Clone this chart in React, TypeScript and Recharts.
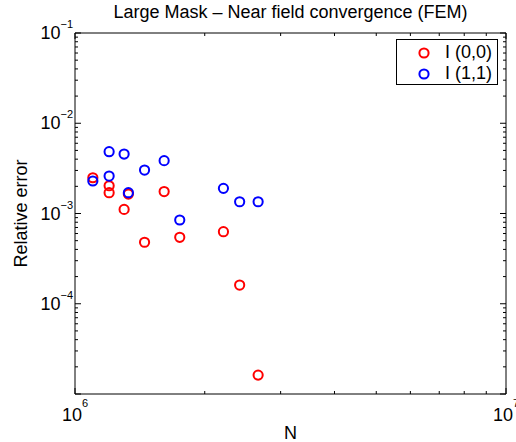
import { ScatterChart, Scatter, XAxis, YAxis, Legend } from 'recharts';

// problem size N (shared by both series)
const nValues = [1.10e6, 1.20e6, 1.20e6, 1.30e6, 1.33e6, 1.45e6, 1.61e6, 1.75e6, 2.21e6, 2.41e6, 2.66e6];
// relative error, I (0,0)
const err00 = [2.49e-3, 2.03e-3, 1.70e-3, 1.11e-3, 1.64e-3, 4.80e-4, 1.75e-3, 5.45e-4, 6.29e-4, 1.61e-4, 1.62e-5];
// relative error, I (1,1)
const err11 = [2.29e-3, 4.84e-3, 2.60e-3, 4.56e-3, 1.70e-3, 3.03e-3, 3.85e-3, 8.47e-4, 1.90e-3, 1.35e-3, 1.35e-3];

const xDecades = [6, 7];
const yDecades = [-5, -4, -3, -2, -1];
// decades whose label is printed on the y axis (10^-5 is not labelled)
const yLabelled = [-4, -3, -2, -1];
const minorSteps = [2, 3, 4, 5, 6, 7, 8, 9];

const withMinors = (decades: number[]) => {
  const out: number[] = [];
  decades.forEach((d, i) => {
    out.push(Math.pow(10, d));
    if (i < decades.length - 1) minorSteps.forEach(m => out.push(m * Math.pow(10, d)));
  });
  return out;
};
const xTicks = withMinors(xDecades);
const yTicks = withMinors(yDecades);

const data00 = nValues.map((n, i) => ({ n, err: err00[i] }));
const data11 = nValues.map((n, i) => ({ n, err: err11[i] }));

const FONT = '"Liberation Sans", Arial, Helvetica, sans-serif';
const MAJOR = 6;
const MINOR = 3;

const expOf = (v: number) => Math.round(Math.log10(v));
const isMajor = (v: number) => Math.abs(Math.log10(v) - expOf(v)) < 1e-9;
const supText = (e: number) => (e < 0 ? '\u2212' + Math.abs(e) : String(e));

const BottomTick = ({ x, y, payload }: any) => {
  const v = payload.value;
  const major = isMajor(v);
  return (
    <g>
      <line x1={x} x2={x} y1={y} y2={y - (major ? MAJOR : MINOR)} stroke="#000" />
      {major && (
        <text x={x - 13} y={y + 27} fontSize={18} fontFamily={FONT} fill="#000">
          <tspan>10</tspan>
          <tspan dy={-14} fontSize={11}>{supText(expOf(v))}</tspan>
        </text>
      )}
    </g>
  );
};

const TopTick = ({ x, y, payload }: any) => {
  const major = isMajor(payload.value);
  return <line x1={x} x2={x} y1={y} y2={y + (major ? MAJOR : MINOR)} stroke="#000" />;
};

const LeftTick = ({ x, y, payload }: any) => {
  const v = payload.value;
  const major = isMajor(v);
  const showLabel = major && yLabelled.includes(expOf(v));
  return (
    <g>
      <line x1={x} x2={x + (major ? MAJOR : MINOR)} y1={y} y2={y} stroke="#000" />
      {showLabel && (
        <text x={x - 2} y={y + 6} fontSize={18} fontFamily={FONT} fill="#000" textAnchor="end">
          <tspan>10</tspan>
          <tspan dy={-11} fontSize={11}>{supText(expOf(v))}</tspan>
        </text>
      )}
    </g>
  );
};

const RightTick = ({ x, y, payload }: any) => {
  const major = isMajor(payload.value);
  return <line x1={x} x2={x - (major ? MAJOR : MINOR)} y1={y} y2={y} stroke="#000" />;
};

const ring = (color: string) => (props: any) => (
  <circle cx={props.cx} cy={props.cy} r={4.6} fill="none" stroke={color} strokeWidth={2} />
);

const YLabel = ({ viewBox }: any) => {
  const cx = 21;
  const cy = viewBox.y + viewBox.height / 2;
  return (
    <text x={cx} y={cy} transform={`rotate(-90 ${cx} ${cy})`} textAnchor="middle" dominantBaseline="central" fontSize={18} fontFamily={FONT} fill="#000">
      Relative error
    </text>
  );
};

const XLabel = ({ viewBox }: any) => (
  <text x={viewBox.x + viewBox.width / 2} y={viewBox.y + 45} textAnchor="middle" fontSize={18} fontFamily={FONT} fill="#000">
    N
  </text>
);

const LegendBox = () => (
  <div
    style={{
      border: '1px solid #000',
      background: '#fff',
      width: 102,
      height: 46,
      boxSizing: 'border-box',
      fontFamily: FONT,
      fontSize: 18,
      color: '#000',
    }}
  >
    {[
      { name: 'I (0,0)', color: '#ff0000' },
      { name: 'I (1,1)', color: '#0000ff' },
    ].map((e) => (
      <div key={e.name} style={{ display: 'flex', alignItems: 'center', height: 21, marginTop: e.name === 'I (0,0)' ? 2 : 0 }}>
        <svg width={48} height={21}>
          <circle cx={27} cy={11} r={4.6} fill="none" stroke={e.color} strokeWidth={2} />
        </svg>
        <span style={{ lineHeight: '21px' }}>{e.name}</span>
      </div>
    ))}
  </div>
);

export default function App() {
  return (
    <div style={{ position: 'absolute', left: 0, top: 0, width: 516, height: 442, background: '#fff' }}>
      <div
        style={{
          position: 'absolute',
          left: 0,
          top: 2,
          width: 581,
          textAlign: 'center',
          fontFamily: FONT,
          fontSize: 18,
          color: '#000',
          whiteSpace: 'nowrap',
        }}
      >
        Large Mask – Near field convergence (FEM)
      </div>
      <ScatterChart width={516} height={442} margin={{ top: 32, right: 9, bottom: 47, left: 74 }}>
        <XAxis
          xAxisId="b"
          dataKey="n"
          type="number"
          scale="log"
          domain={[1e6, 1e7]}
          allowDataOverflow
          ticks={xTicks}
          interval={0}
          height={1}
          tickSize={0}
          tickMargin={0}
          tickLine={false}
          tick={<BottomTick />}
          axisLine={{ stroke: '#000' }}
          label={<XLabel />}
        />
        <XAxis
          xAxisId="t"
          orientation="top"
          dataKey="n"
          type="number"
          scale="log"
          domain={[1e6, 1e7]}
          allowDataOverflow
          ticks={xTicks}
          interval={0}
          height={1}
          tickSize={0}
          tickMargin={0}
          tickLine={false}
          tick={<TopTick />}
          axisLine={{ stroke: '#000' }}
        />
        <YAxis
          yAxisId="l"
          dataKey="err"
          type="number"
          scale="log"
          domain={[1e-5, 1e-1]}
          allowDataOverflow
          ticks={yTicks}
          interval={0}
          width={1}
          tickSize={0}
          tickMargin={0}
          tickLine={false}
          tick={<LeftTick />}
          axisLine={{ stroke: '#000' }}
          label={<YLabel />}
        />
        <YAxis
          yAxisId="r"
          orientation="right"
          dataKey="err"
          type="number"
          scale="log"
          domain={[1e-5, 1e-1]}
          allowDataOverflow
          ticks={yTicks}
          interval={0}
          width={1}
          tickSize={0}
          tickMargin={0}
          tickLine={false}
          tick={<RightTick />}
          axisLine={{ stroke: '#000' }}
        />
        <Legend
          layout="vertical"
          align="center"
          verticalAlign="middle"
          content={<LegendBox />}
          wrapperStyle={{ position: 'absolute', left: 396, top: 39, width: 102, height: 46 }}
        />
        <Scatter name="I (0,0)" data={data00} xAxisId="b" yAxisId="l" shape={ring('#ff0000')} isAnimationActive={false} />
        <Scatter name="I (1,1)" data={data11} xAxisId="b" yAxisId="l" shape={ring('#0000ff')} isAnimationActive={false} />
      </ScatterChart>
    </div>
  );
}
